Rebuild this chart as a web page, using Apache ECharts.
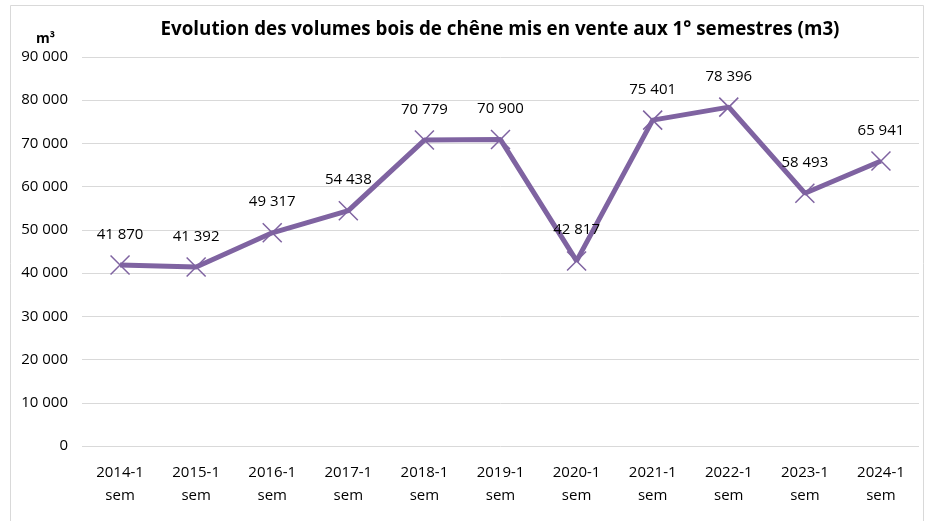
<!DOCTYPE html>
<html>
<head>
<meta charset="utf-8">
<script src="https://cdn.jsdelivr.net/npm/echarts@6/dist/echarts.min.js"></script>
<style>
  html, body { margin: 0; padding: 0; background: #fff; }
  #chart { width: 925px; height: 521px; }
</style>
</head>
<body>
<div id="chart"></div>
<script>
// données
const categories = ['2014-1\nsem', '2015-1\nsem', '2016-1\nsem', '2017-1\nsem', '2018-1\nsem', '2019-1\nsem',
  '2020-1\nsem', '2021-1\nsem', '2022-1\nsem', '2023-1\nsem', '2024-1\nsem']
const volumes = [41870, 41392, 49317, 54438, 70779, 70900, 42817, 75401, 78396, 58493, 65941]

const fmt = (v) => String(v).replace(/\B(?=(\d{3})+(?!\d))/g, ' ')
const font = 'Open Sans, Liberation Sans, sans-serif'
const purple = '#7F63A1'

const chart = echarts.init(document.getElementById('chart'))

const option = {
  animation: false,
  textStyle: { fontFamily: font },
  graphic: [
    {
      type: 'rect',
      shape: { x: 10.5, y: 5.5, width: 913, height: 520 },
      style: { fill: 'none', stroke: '#D9D9D9', lineWidth: 1 }
    }
  ],
  title: [
    {
      text: 'Evolution des volumes bois de chêne mis en vente aux 1° semestres (m3)',
      left: 495,
      top: 15,
      textAlign: 'center',
      textStyle: { fontSize: 18.8, fontWeight: 'bold', color: '#000', fontFamily: font }
    },
    {
      text: 'm³',
      left: 31,
      top: 27,
      textStyle: { fontSize: 14, fontWeight: 'bold', color: '#000', fontFamily: font }
    }
  ],
  grid: { left: 82, right: 6, top: 57, bottom: 75 },
  xAxis: {
    type: 'category',
    data: categories,
    axisLine: { show: false },
    axisTick: { show: false },
    axisLabel: { color: '#000', fontSize: 15, lineHeight: 23, margin: 15, fontFamily: font }
  },
  yAxis: {
    type: 'value',
    min: 0,
    max: 90000,
    interval: 10000,
    axisLine: { show: false },
    axisTick: { show: false },
    axisLabel: { color: '#000', fontSize: 15, margin: 14, formatter: fmt, fontFamily: font },
    splitLine: { lineStyle: { color: '#D9D9D9', width: 1 } }
  },
  series: [
    {
      type: 'line',
      data: volumes,
      lineStyle: { color: purple, width: 5 },
      symbol: 'path://M0,0L10,10M10,0L0,10',
      symbolSize: 19,
      itemStyle: { color: purple, borderColor: purple, borderWidth: 1.5 },
      label: {
        show: true,
        position: 'top',
        distance: 13,
        color: '#000',
        fontSize: 15,
        fontFamily: font,
        formatter: (p) => fmt(p.value)
      }
    }
  ]
}

chart.setOption(option)
</script>
</body>
</html>
